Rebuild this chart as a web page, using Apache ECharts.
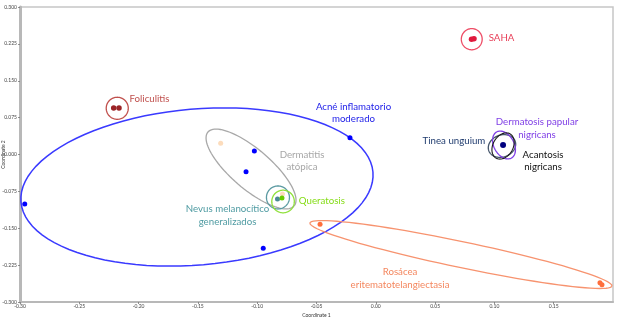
<!DOCTYPE html>
<html>
<head>
<meta charset="utf-8">
<script src="https://cdn.jsdelivr.net/npm/echarts@6/dist/echarts.min.js"></script>
<style>
	html, body { margin: 0; padding: 0; background: #fff; }
	#chart { width: 619px; height: 318px; }
</style>
</head>
<body>
<div id="chart"></div>

<script>
	// point coordinates (Coordinate 1, Coordinate 2) per group
	const acnePts = [[-0.296, -0.1006], [-0.0218, 0.0342], [-0.1024, 0.0071], [-0.1094, -0.035], [-0.0949, -0.1908]];
	const foliculitisPts = [[-0.221, 0.0946], [-0.2165, 0.0946]];
	const sahaPts = [[0.0807, 0.2345], [0.0828, 0.2352]];
	const dermatitisPts = [[-0.1308, 0.0228], [-0.0787, -0.0803]];
	const nevusPts = [[-0.0829, -0.0905]];
	const queratosisPts = [[-0.0791, -0.0885]];
	const rosaceaPts = [[-0.047, -0.142], [0.189, -0.2607], [0.1907, -0.2648]];
	const clusterPts = [[0.1073, 0.0193]];

	// ellipses: [centre x, centre y, semi-axis u (x, y), conjugate semi-axis v (x, y)]
	const acneEll = [-0.1508, -0.0661, 0.1484, 0.0305, -0.0056, 0.158];
	const foliculitisEll = [-0.218, 0.094, 0.0093, 0, 0, 0.0224];
	const sahaEll = [0.0809, 0.2345, 0.0088, 0, 0, 0.0215];
	const dermatitisEll = [-0.1052, -0.0295, 0.0363, -0.0752, -0.011, -0.0305];
	const nevusEll = [-0.0825, -0.0874, 0.0097, 0, 0, 0.0234];
	const queratosisEll = [-0.0782, -0.0956, 0.0095, 0, 0, 0.023];
	const rosaceaEll = [0.0718, -0.2034, 0.1273, -0.0641, 0.0022, 0.0258];
	const tineaEll = [0.1064, 0.0173, 0.0111, 0.0098, 0.0032, -0.0209];
	const papularEll = [0.1081, 0.0193, 0.0063, -0.0264, -0.0073, -0.0102];
	const acantosisEll = [0.1073, 0.0173, -0.0059, -0.0246, -0.0073, 0.0102];

	// annotation texts and where they sit
	const labelText = ['Foliculitis', 'SAHA', 'Acné inflamatorio\nmoderado', 'Dermatitis\natópica',
		'Nevus melanocítico\ngeneralizados', 'Queratosis', 'Rosácea\neritematotelangiectasia',
		'Dermatosis papular\nnigricans', 'Tinea unguium', 'Acantosis\nnigricans'];
	const labelAt = [[-0.1908, 0.1129], [0.106, 0.237], [-0.0188, 0.0847], [-0.0622, -0.0127],
		[-0.125, -0.1237], [-0.0455, -0.0939], [0.0204, -0.2518],
		[0.1359, 0.0532], [0.0659, 0.0275], [0.1410, -0.0129]];
	const labelColor = ['#c0504d', '#e8415a', '#1c1ce8', '#a6a6a6', '#4f9ba2', '#84dc14', '#f4875f',
		'#8040e6', '#1f3b6e', '#111111'];

	const font = 'Lato, "Open Sans", sans-serif';

	function ellipse(e, color, width) {
		return {
			type: 'custom',
			silent: true,
			z: 2,
			encode: { x: 0, y: 1 },
			data: [e],
			renderItem: function (params, api) {
				const pts = [];
				const n = 96;
				for (let i = 0; i <= n; i++) {
					const t = 2 * Math.PI * i / n;
					pts.push(api.coord([
						api.value(0) + api.value(2) * Math.cos(t) + api.value(4) * Math.sin(t),
						api.value(1) + api.value(3) * Math.cos(t) + api.value(5) * Math.sin(t)
					]));
				}
				return {
					type: 'polyline',
					shape: { points: pts },
					style: { fill: null, stroke: color, lineWidth: width || 1.3 }
				};
			}
		};
	}

	function dots(d, color, size) {
		return {
			type: 'scatter',
			silent: true,
			z: 3,
			data: d,
			symbolSize: size || 5,
			itemStyle: { color: color, opacity: 1 }
		};
	}

	const labelData = labelText.map((t, i) => [labelAt[i][0], labelAt[i][1], t, i]);

	const chart = echarts.init(document.getElementById('chart'), null, { renderer: 'canvas' });
	chart.setOption({
		animation: false,
		grid: {
			left: 20, right: 6, top: 7, bottom: 16,
			containLabel: false,
			outerBoundsMode: 'none',
			show: true, borderColor: '#c6c6c6', borderWidth: 1.5
		},
		xAxis: {
			type: 'value',
			min: -0.3, max: 0.2, interval: 0.05,
			name: 'Coordinate 1',
			nameLocation: 'middle',
			nameGap: 11,
			nameMoveOverlap: false,
			nameTextStyle: { fontSize: 5, color: '#333', fontFamily: font },
			axisLine: { onZero: false, lineStyle: { color: '#b8b8b8', width: 2 } },
			axisTick: { length: 2, lineStyle: { color: '#777', width: 0.8 } },
			axisLabel: {
				fontSize: 5, color: '#444', margin: 2, fontFamily: font,
				showMaxLabel: false,
				formatter: v => v.toFixed(2)
			},
			splitLine: { show: false }
		},
		yAxis: {
			type: 'value',
			min: -0.3, max: 0.3, interval: 0.075,
			name: 'Coordinate 2',
			nameLocation: 'middle',
			nameRotate: 90,
			nameGap: 14,
			nameMoveOverlap: false,
			nameTextStyle: { fontSize: 5, color: '#333', fontFamily: font },
			axisLine: { onZero: false, lineStyle: { color: '#b8b8b8', width: 3 } },
			axisTick: { length: 2, lineStyle: { color: '#777', width: 0.8 } },
			axisLabel: {
				fontSize: 5, color: '#444', margin: 3, fontFamily: font,
				formatter: v => v.toFixed(3)
			},
			splitLine: { show: false }
		},
		series: [
			ellipse(acneEll, '#3a3aff', 1.5),
			ellipse(foliculitisEll, '#c0504d'),
			ellipse(sahaEll, '#ee4d66'),
			ellipse(dermatitisEll, '#a8a8a8'),
			ellipse(nevusEll, '#5b9aa2'),
			ellipse(queratosisEll, '#8fe03a'),
			ellipse(rosaceaEll, '#f7936f'),
			ellipse(tineaEll, '#44546a'),
			ellipse(papularEll, '#8040e6'),
			ellipse(acantosisEll, '#1a1a1a', 1.1),
			dots(acnePts, '#0000ff'),
			dots(foliculitisPts, '#9b2326', 5.5),
			dots(sahaPts, '#e0193c', 5.5),
			dots(dermatitisPts, '#fcdcbc'),
			dots(nevusPts, '#4a8a94'),
			dots(queratosisPts, '#66cc00'),
			dots(rosaceaPts, '#ff6e3c'),
			dots(clusterPts, '#00007f', 6),
			{
				type: 'custom',
				silent: true,
				z: 4,
				encode: { x: 0, y: 1 },
				data: labelData,
				renderItem: function (params, api) {
					const p = api.coord([api.value(0), api.value(1)]);
					const i = api.value(3);
					return {
						type: 'text',
						x: p[0], y: p[1],
						style: {
							text: labelText[i],
							fill: labelColor[i],
							fontSize: 9.7,
							fontFamily: font,
							lineHeight: 12.5,
							align: 'center',
							verticalAlign: 'middle'
						}
					};
				}
			}
		]
	});
</script>
</body>
</html>
